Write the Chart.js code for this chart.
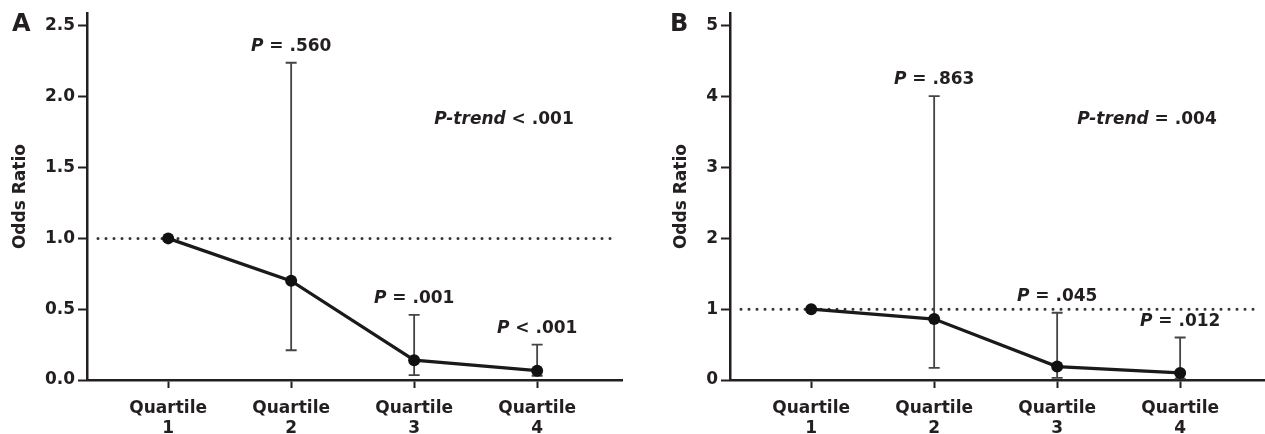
<!DOCTYPE html>
<html>
<head>
<meta charset="utf-8">
<script src="https://cdn.jsdelivr.net/npm/chart.js@4"></script>
<style>
  html, body { margin: 0; padding: 0; background: #fff; overflow: hidden; }
  .panel { position: absolute; top: 0; height: 434px; }
  #wrapA { left: 0; width: 632px; }
  #wrapB { left: 632px; width: 633px; }
</style>
</head>
<body>
<div class="panel" id="wrapA"><canvas id="chartA"></canvas></div>
<div class="panel" id="wrapB"><canvas id="chartB"></canvas></div>
<script>
const quartiles = [1, 2, 3, 4];

// Panel A
const orA = [1.0, 0.70, 0.14, 0.066];
const lowA = [null, 0.21, 0.035, 0.03];
const highA = [null, 2.24, 0.46, 0.25];
const pLabelsA = ['', '.560', '.001', '.001'];
const pSignsA = ['', '=', '=', '<'];
const yTicksA = [0, 0.5, 1.0, 1.5, 2.0, 2.5];

// Panel B
const orB = [1.0, 0.86, 0.19, 0.10];
const lowB = [null, 0.17, 0.03, 0.02];
const highB = [null, 4.01, 0.95, 0.60];
const pLabelsB = ['', '.863', '.045', '.012'];
const pSignsB = ['', '=', '=', '='];
const yTicksB = [0, 1, 2, 3, 4, 5];

const INK = '#231f20';
const FONT = '"DejaVu Sans", sans-serif';

// draws "P" in italic followed by the rest upright, centred on x
function drawMixed(ctx, italicPart, rest, x, y) {
  ctx.font = 'italic bold 17px ' + FONT;
  const w1 = ctx.measureText(italicPart).width;
  ctx.font = 'bold 17px ' + FONT;
  const w2 = ctx.measureText(rest).width;
  const start = x - (w1 + w2) / 2;
  ctx.textAlign = 'left';
  ctx.textBaseline = 'middle';
  ctx.fillStyle = INK;
  ctx.font = 'italic bold 17px ' + FONT;
  ctx.fillText(italicPart, start, y);
  ctx.font = 'bold 17px ' + FONT;
  ctx.fillText(rest, start + w1, y);
}

const overlay = {
  id: 'overlay',
  beforeDatasetsDraw(chart, args, opts) {
    const { ctx, chartArea } = chart;
    const xs = chart.scales.x, ys = chart.scales.y;
    ctx.save();
    // reference line at OR = 1
    ctx.strokeStyle = '#333';
    ctx.lineWidth = 3;
    ctx.lineCap = 'round';
    ctx.setLineDash([0, 8]);
    ctx.beginPath();
    const y1 = ys.getPixelForValue(1);
    ctx.moveTo(chartArea.left + 11, y1);
    ctx.lineTo(chartArea.right - 10, y1);
    ctx.stroke();
    ctx.setLineDash([]);
    ctx.lineCap = 'butt';
    // confidence intervals
    ctx.strokeStyle = '#444';
    ctx.lineWidth = 1.8;
    opts.low.forEach((lo, i) => {
      const hi = opts.high[i];
      if (lo == null || hi == null) return;
      const x = xs.getPixelForValue(quartiles[i]);
      const yl = ys.getPixelForValue(lo), yh = ys.getPixelForValue(hi);
      ctx.beginPath();
      ctx.moveTo(x, yl); ctx.lineTo(x, yh);
      ctx.moveTo(x - 5.5, yl); ctx.lineTo(x + 5.5, yl);
      ctx.moveTo(x - 5.5, yh); ctx.lineTo(x + 5.5, yh);
      ctx.stroke();
    });
    ctx.restore();
  },
  afterDraw(chart, args, opts) {
    const { ctx, chartArea } = chart;
    const xs = chart.scales.x, ys = chart.scales.y;
    ctx.save();
    // per-quartile P values above the whiskers
    opts.pValues.forEach((p, i) => {
      if (!p) return;
      const x = xs.getPixelForValue(quartiles[i]);
      const y = ys.getPixelForValue(opts.high[i]) - 16;
      drawMixed(ctx, 'P', ' ' + opts.pSigns[i] + ' ' + p, x, y);
    });
    drawMixed(ctx, 'P-trend', ' ' + opts.trend, xs.getPixelForValue(3.73), 120);
    // panel letter
    ctx.font = 'bold 24px ' + FONT;
    ctx.fillStyle = INK;
    ctx.textAlign = 'left';
    ctx.textBaseline = 'middle';
    ctx.fillText(opts.letter, chartArea.left - opts.letterOffset, 25);
    ctx.restore();
  }
};

function makePanel(id, or, low, high, pValues, pSigns, yTicks, yMax, trend, letter, opts) {
  const tickFont = { family: FONT, size: 17, weight: 'bold' };
  return new Chart(document.getElementById(id), {
    type: 'line',
    data: {
      datasets: [{
        data: quartiles.map((q, i) => ({ x: q, y: or[i] })),
        borderColor: '#1a1a1a',
        borderWidth: 3.2,
        pointRadius: 6,
        pointBackgroundColor: '#111',
        pointBorderWidth: 0,
        tension: 0
      }]
    },
    options: {
      responsive: true,
      maintainAspectRatio: false,
      animation: false,
      layout: { autoPadding: false, padding: { top: 13, left: opts.padLeft, right: opts.padRight, bottom: 0 } },
      plugins: {
        legend: { display: false },
        tooltip: { enabled: false },
        overlay: { low, high, pValues, pSigns, trend, letter, letterOffset: opts.letterOffset }
      },
      scales: {
        x: {
          type: 'linear',
          min: 0.34,
          max: 4.69,
          afterBuildTicks: s => { s.ticks = quartiles.map(v => ({ value: v })); },
          afterFit: s => { s.height = 54; },
          border: { color: INK, width: 2.5 },
          grid: { drawOnChartArea: false, drawTicks: true, tickLength: 8, tickWidth: 2, tickColor: INK },
          ticks: {
            autoSkip: false, maxRotation: 0, padding: 10,
            color: INK, font: tickFont,
            callback: v => ['Quartile', String(v)]
          }
        },
        y: {
          min: 0,
          max: yMax,
          afterBuildTicks: s => { s.ticks = yTicks.map(v => ({ value: v })); },
          afterFit: s => { s.width = opts.yWidth; },
          border: { color: INK, width: 2.5 },
          grid: { drawOnChartArea: false, drawTicks: true, tickLength: 9, tickWidth: 2, tickColor: INK },
          ticks: {
            padding: 3, color: INK, font: tickFont,
            callback: v => opts.decimals ? v.toFixed(1) : String(v)
          },
          title: {
            display: true, text: 'Odds Ratio', color: INK,
            font: { family: FONT, size: 17, weight: 'bold' },
            padding: { top: 10, bottom: 0 }
          }
        }
      }
    },
    plugins: [overlay]
  });
}

makePanel('chartA', orA, lowA, highA, pLabelsA, pSignsA, yTicksA, 2.59, '< .001', 'A',
  { padLeft: 0, padRight: 10, yWidth: 87, decimals: true, letterOffset: 75 });
makePanel('chartB', orB, lowB, highB, pLabelsB, pSignsB, yTicksB, 5.18, '= .004', 'B',
  { padLeft: 29, padRight: 0, yWidth: 69, decimals: false, letterOffset: 60 });
</script>
</body>
</html>
